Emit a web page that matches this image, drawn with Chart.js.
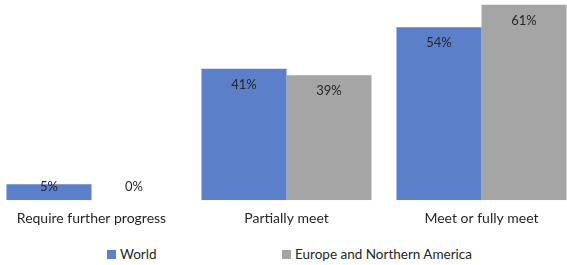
<!DOCTYPE html>
<html>
<head>
<meta charset="utf-8">
<script src="https://cdn.jsdelivr.net/npm/chart.js@4"></script>
<style>
  html, body { margin: 0; padding: 0; background: #fff; overflow: hidden; width: 567px; height: 265px; }
  #wrap { position: absolute; left: -6px; top: 0; width: 585px; height: 237px; }
  .leg { position: absolute; top: 246px; font: 13.5px Lato, sans-serif; color: #262626; display: flex; align-items: center; }
  .leg span.box { display: inline-block; width: 9px; height: 9px; margin-right: 4px; }
</style>
</head>
<body>
<div id="wrap"><canvas id="chart"></canvas></div>
<div class="leg" style="left:107px"><span class="box" style="background:#5b7fc9"></span>World</div>
<div class="leg" style="left:282px"><span class="box" style="background:#a5a5a5"></span>Europe and Northern America</div>
<script>
const categories = ['Require further progress', 'Partially meet', 'Meet or fully meet'];
const worldValues = [5, 41, 54];
const europeValues = [0, 39, 61];
const seriesNames = ['World', 'Europe and Northern America'];

// etiquetas de valor dentro de la barra, cerca del borde superior
const valueLabels = {
    id: 'valueLabels',
    afterDatasetsDraw(chart) {
        const ctx = chart.ctx;
        const base = chart.scales.y.getPixelForValue(0);
        ctx.save();
        ctx.font = '13px Lato, sans-serif';
        ctx.fillStyle = '#262626';
        ctx.textAlign = 'center';
        ctx.textBaseline = 'middle';
        chart.data.datasets.forEach((ds, i) => {
            chart.getDatasetMeta(i).data.forEach((bar, j) => {
                const y = Math.min(bar.y + 16, base - 13);
                ctx.fillText(ds.data[j] + '%', bar.x, y);
            });
        });
        ctx.restore();
    }
};

new Chart(document.getElementById('chart'), {
    type: 'bar',
    data: {
        labels: categories,
        datasets: [
            { label: seriesNames[0], data: worldValues, backgroundColor: '#5b7fc9' },
            { label: seriesNames[1], data: europeValues, backgroundColor: '#a5a5a5' }
        ]
    },
    options: {
        responsive: true,
        maintainAspectRatio: false,
        animation: false,
        layout: { padding: 0 },
        datasets: { bar: { barPercentage: 1, categoryPercentage: 0.872 } },
        plugins: { legend: { display: false }, tooltip: { enabled: false } },
        scales: {
            x: {
                grid: { display: false, drawTicks: false },
                border: { display: false },
                ticks: { padding: 10, color: '#262626', font: { family: 'Lato, sans-serif', size: 14 } }
            },
            y: { display: false, min: 0, max: 62.5 }
        }
    },
    plugins: [valueLabels]
});
</script>
</body>
</html>
